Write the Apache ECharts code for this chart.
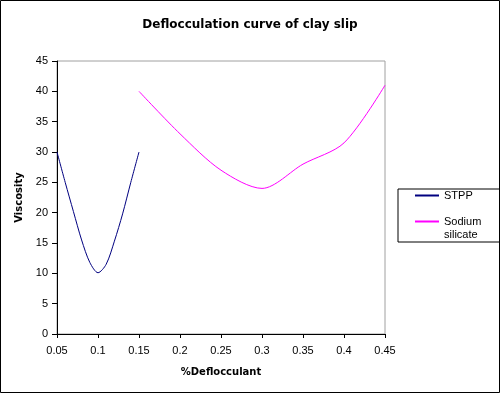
<!DOCTYPE html>
<html>
<head>
<meta charset="utf-8">
<script src="https://cdn.jsdelivr.net/npm/echarts@6/dist/echarts.min.js"></script>
<style>
html,body{margin:0;padding:0;background:#fff;}
#c{width:500px;height:393px;}
</style>
</head>
<body>
<div id="c"></div>
<script>
// Data
const stppX = [0.05, 0.06, 0.07, 0.08, 0.09, 0.10, 0.11, 0.12, 0.13, 0.14, 0.15];
const stppY = [30, 25, 20.2, 15.5, 11.8, 10.1, 11.5, 15.3, 19.8, 25, 30];
const silX = [0.15, 0.20, 0.25, 0.30, 0.35, 0.40, 0.45];
const silY = [40, 33, 27, 24, 28, 31.5, 41];
const seriesNames = ['STPP', 'Sodium silicate'];
const titleText = 'Deflocculation curve of clay slip';
const xName = '%Deflocculant';
const yName = 'Viscosity';

const FONT = 'Arial, "Liberation Sans", sans-serif';
const BOLD = '"DejaVu Sans", Verdana, sans-serif';
const chart = echarts.init(document.getElementById('c'), null, {renderer: 'canvas'});
chart.setOption({
  backgroundColor: '#ffffff',
  animation: false,
  title: {
    text: titleText,
    left: 'center',
    top: 14,
    textStyle: {fontFamily: BOLD, fontSize: 12, fontWeight: 'bold', color: '#000'}
  },
  grid: {
    left: 57, right: 115, top: 61, bottom: 59,
    show: true, borderColor: '#a0a0a0', borderWidth: 1, backgroundColor: 'transparent'
  },
  legend: {
    orient: 'vertical',
    left: 398, top: 189,
    borderColor: '#000', borderWidth: 1,
    padding: [0, 20, 1, 17],
    itemGap: 0,
    itemWidth: 24, itemHeight: 2,
    icon: 'rect',
    textStyle: {fontFamily: FONT, fontSize: 11, color: '#000', lineHeight: 13},
    formatter: function (n) { return n === 'Sodium silicate' ? ' \nSodium\nsilicate' : n; },
    data: seriesNames
  },
  xAxis: {
    type: 'value',
    min: 0.05, max: 0.45, interval: 0.05,
    name: xName,
    nameLocation: 'middle',
    nameGap: 33,
    nameTextStyle: {fontFamily: BOLD, fontSize: 10, fontWeight: 'bold', color: '#000'},
    axisLine: {show: true, lineStyle: {color: '#000', width: 1}},
    axisTick: {show: true, length: 4, lineStyle: {color: '#000'}},
    splitLine: {show: false},
    axisLabel: {
      fontFamily: FONT, fontSize: 11, color: '#000', margin: 11,
      formatter: function (v) { return String(Math.round(v * 100) / 100); }
    }
  },
  yAxis: {
    type: 'value',
    min: 0, max: 45, interval: 5,
    name: yName,
    nameLocation: 'middle',
    nameGap: 31,
    nameTextStyle: {fontFamily: BOLD, fontSize: 10, fontWeight: 'bold', color: '#000'},
    axisLine: {show: true, lineStyle: {color: '#000', width: 1}},
    axisTick: {show: true, length: 5, lineStyle: {color: '#000'}},
    splitLine: {show: false},
    axisLabel: {fontFamily: FONT, fontSize: 11, color: '#000', margin: 9}
  },
  graphic: [{
    type: 'rect',
    shape: {x: 0.5, y: 0.5, width: 499, height: 392},
    style: {fill: 'none', stroke: '#000', lineWidth: 1},
    silent: true, z: 100
  }],
  series: [
    {
      name: seriesNames[0], type: 'line', smooth: 0.3, showSymbol: false,
      data: stppX.map((x, i) => [x, stppY[i]]),
      lineStyle: {color: '#000080', width: 1}, itemStyle: {color: '#000080'}
    },
    {
      name: seriesNames[1], type: 'line', smooth: 0.3, showSymbol: false,
      data: silX.map((x, i) => [x, silY[i]]),
      lineStyle: {color: '#ff00ff', width: 1}, itemStyle: {color: '#ff00ff'}
    }
  ]
});
</script>
</body>
</html>
